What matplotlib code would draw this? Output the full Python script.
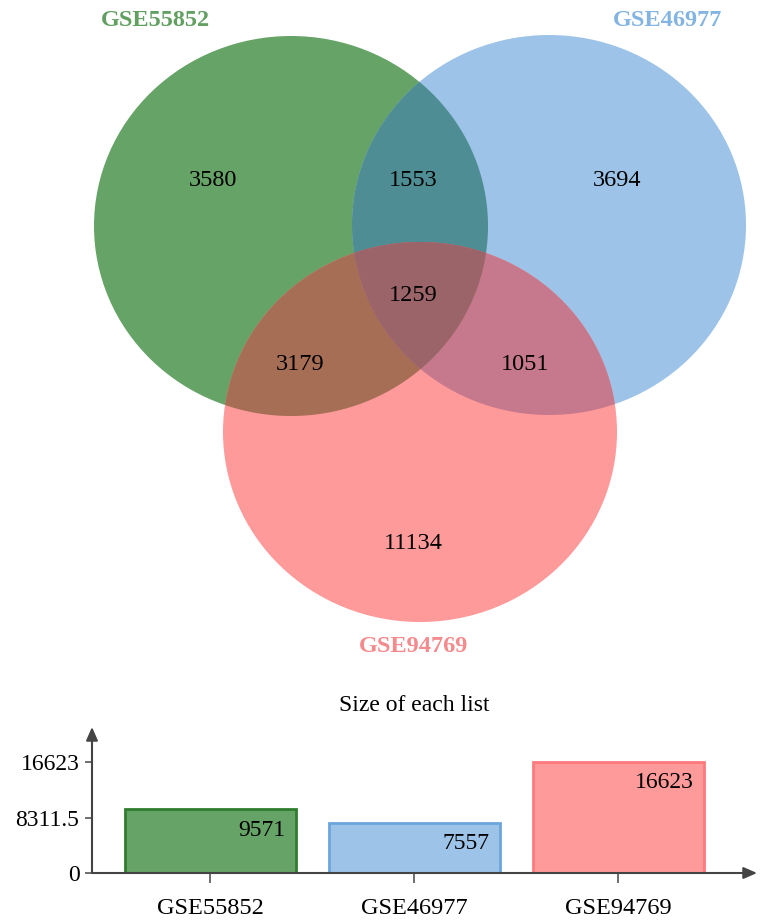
import numpy as np
import matplotlib
matplotlib.use("Agg")
import matplotlib.pyplot as plt
from matplotlib.patches import Ellipse, Polygon

# ---------------- data ----------------
set_names = ["GSE55852", "GSE46977", "GSE94769"]
set_sizes = [9571, 7557, 16623]
only_a, only_b, only_c = 3580, 3694, 11134
ab, ac, bc, abc = 1553, 3179, 1051, 1259
y_ticks = [0, 8311.5, 16623]
y_tick_labels = ["0", "8311.5", "16623"]

# ---------------- style ----------------
set_colors = ["#66A366", "#9DC3E8", "#FF9A9B"]
label_colors = ["#62A062", "#84B4E2", "#F38A8C"]
edge_colors = ["#2F7D2F", "#6CA5DC", "#FF7A7C"]
col_ab = "#4F8D94"
col_ac = "#A66E55"
col_bc = "#C6798C"
col_abc = "#9B6469"

W, H = 761, 922
fig = plt.figure(figsize=(W / 100, H / 100), dpi=100)
serif = ["Liberation Serif", "DejaVu Serif"]

# ---------------- Venn ----------------
ax = fig.add_axes([0, 0, 1, 1])
ax.set_xlim(0, W)
ax.set_ylim(H, 0)
ax.axis("off")

centers = [(291, 226), (549, 225), (420, 432)]
ew, eh = 394, 380

for c, col in zip(centers, set_colors):
    ax.add_patch(Ellipse(c, ew, eh, facecolor=col, edgecolor="none", zorder=1))


def inside(pts, c):
    return ((pts[:, 0] - c[0]) / (ew / 2)) ** 2 + ((pts[:, 1] - c[1]) / (eh / 2)) ** 2 <= 1.0 + 1e-9


def region(idx):
    t = np.linspace(0, 2 * np.pi, 1440, endpoint=False)
    allp = []
    for i in idx:
        c = centers[i]
        p = np.column_stack([c[0] + ew / 2 * np.cos(t), c[1] + eh / 2 * np.sin(t)])
        m = np.ones(len(p), bool)
        for j in idx:
            if j != i:
                m &= inside(p, centers[j])
        allp.append(p[m])
    p = np.vstack(allp)
    m = p.mean(axis=0)
    ang = np.arctan2(p[:, 1] - m[1], p[:, 0] - m[0])
    return p[np.argsort(ang)]


for idx, col in [((0, 1), col_ab), ((0, 2), col_ac), ((1, 2), col_bc), ((0, 1, 2), col_abc)]:
    ax.add_patch(Polygon(region(idx), closed=True, facecolor=col, edgecolor="none", zorder=2))

nums = [(only_a, 213, 181), (ab, 413, 181), (only_b, 617, 181), (abc, 413, 295),
        (ac, 300, 364), (bc, 525, 364), (only_c, 413, 543)]
for v, x, y in nums:
    ax.text(x, y, str(v), ha="center", va="center", fontsize=17.5, family=serif, color="black", zorder=5)

label_pos = [(155, 20), (668, 20), (414, 646)]
for name, (x, y), col in zip(set_names, label_pos, label_colors):
    ax.text(x, y, name, ha="center", va="center", fontsize=17.5, fontweight="bold",
            family=serif, color=col, zorder=5)

ax.text(414, 705, "Size of each list", ha="center", va="center", fontsize=17, family=serif, color="black")

# ---------------- Bar chart ----------------
x_left, x_right = 92, 757
y_bottom, y_top = 873, 727
y_max_px = 762  # pixel row of 16623
bx = fig.add_axes([x_left / W, 1 - y_bottom / H, (x_right - x_left) / W, (y_bottom - y_top) / H])
bx.patch.set_alpha(0)
spacing = 204.0
x0 = 210.0
bx.set_xlim((x_left - x0) / spacing, (x_right - x0) / spacing)
ymax = 16623 * (y_bottom - y_top) / (y_bottom - y_max_px)
bx.set_ylim(0, ymax)
for s in bx.spines.values():
    s.set_visible(False)

xs = np.arange(len(set_names))
bw = 171 / spacing
for xi, v, fc, ec in zip(xs, set_sizes, set_colors, edge_colors):
    bx.bar(xi, v, width=bw, color=fc, edgecolor=ec, linewidth=2, zorder=2)
    bx.text(xi + bw / 2 - 10 / spacing, v - 21 * ymax / (y_bottom - y_top), str(v),
            ha="right", va="center", fontsize=17, family=serif, color="black", zorder=3)

bx.set_xticks(xs)
bx.set_xticklabels(set_names, family=serif, fontsize=17.5)
bx.set_yticks(y_ticks)
bx.set_yticklabels(y_tick_labels, family=serif, fontsize=17)
bx.tick_params(axis="x", length=7, width=1.2, color="#555555", pad=11)
bx.tick_params(axis="y", length=5, width=1.2, color="#555555", pad=4)

arrow_kw = dict(arrowstyle="-|>,head_length=0.8,head_width=0.35", color="#444444", lw=1.5,
                shrinkA=0, shrinkB=0)
bx.annotate("", xy=(1, 0), xytext=(0, 0), xycoords="axes fraction", textcoords="axes fraction",
            arrowprops=arrow_kw, zorder=4)
bx.annotate("", xy=(0, 1), xytext=(0, 0), xycoords="axes fraction", textcoords="axes fraction",
            arrowprops=arrow_kw, zorder=4)

fig.savefig("out.png", dpi=100)
